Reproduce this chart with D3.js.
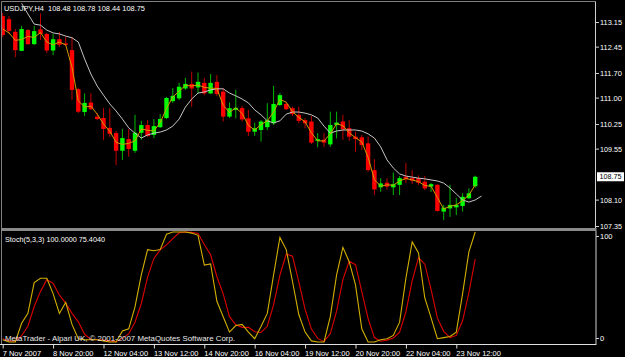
<!DOCTYPE html>
<html><head><meta charset="utf-8">
<script src="https://cdn.jsdelivr.net/npm/d3@7"></script>
<style>html,body{margin:0;padding:0;background:#000;overflow:hidden}svg{display:block}</style>
</head><body>
<svg id="chart" width="625" height="357"></svg>
<script>
// ---------- DATA ----------
const symbolTitle = "USDJPY,H4  108.48 108.78 108.44 108.75";
const stochTitle = "Stoch(5,3,3) 100.0000 75.4040";
const copyright = "MetaTrader - Alpari UK, \u00a9 2001-2007 MetaQuotes Software Corp.";

const opens = [113.32,113.23,112.87,112.33,112.92,112.52,112.94,112.81,112.34,112.66,
112.54,112.35,111.24,110.59,110.86,110.46,110.42,110.14,109.99,109.49,
109.82,109.49,110.00,110.22,109.94,110.16,110.42,110.90,110.98,111.26,
111.39,111.29,111.42,111.12,111.45,111.17,110.46,110.65,110.70,110.41,
110.03,110.08,110.16,110.27,110.79,110.82,110.70,110.51,110.36,110.32,
109.77,109.80,109.67,110.22,110.32,110.13,109.89,109.87,109.70,108.94,
108.45,108.58,108.45,108.52,108.75,108.71,108.71,108.61,108.47,108.52,
107.76,107.85,107.88,107.92,108.14,108.48];
const highs = [113.41,113.32,112.95,113.04,112.95,113.04,113.39,112.84,112.81,112.87,
112.73,112.73,111.27,111.12,111.12,110.56,110.70,110.70,110.05,110.11,
110.11,110.51,110.34,110.36,110.39,110.53,111.02,111.27,111.42,111.56,
111.74,111.71,111.56,111.67,111.64,111.27,110.86,111.22,110.76,110.65,
110.29,110.36,110.84,111.33,111.13,110.88,110.74,110.74,110.42,110.48,
109.99,109.99,110.60,110.60,110.51,110.36,110.03,109.94,109.89,109.25,
108.71,108.71,108.87,108.77,109.14,108.94,108.79,108.77,108.57,108.54,
107.95,108.52,108.15,108.28,108.42,108.78];
const lows = [112.72,112.81,112.15,112.32,112.50,112.50,112.64,112.27,112.21,112.44,
112.47,110.93,110.56,110.48,110.65,110.36,109.80,109.88,109.08,109.23,
109.32,109.43,109.80,109.88,109.85,110.14,110.39,110.85,110.93,111.22,
110.74,111.13,111.07,111.10,111.05,110.32,110.42,110.41,110.32,109.91,
109.91,109.75,110.08,110.22,110.76,110.65,110.48,110.27,110.13,109.68,
109.59,109.60,109.60,109.84,109.80,109.77,109.46,109.51,108.89,108.23,
108.32,108.39,108.23,108.23,108.57,108.54,108.52,108.37,108.32,107.76,
107.52,107.61,107.66,107.76,108.12,108.44];
const closes = [112.78,112.90,112.35,112.95,112.52,112.89,112.81,112.34,112.66,112.50,
112.50,111.22,110.60,110.85,110.67,110.39,110.11,109.97,109.49,109.85,
109.54,110.00,110.22,109.91,110.19,110.39,110.99,111.05,111.31,111.39,
111.26,111.45,111.12,111.42,111.10,110.46,110.70,110.71,110.38,110.03,
110.13,110.32,110.36,110.82,111.07,110.67,110.53,110.34,110.27,109.72,
109.82,109.72,110.22,110.29,110.10,109.89,109.82,109.65,108.94,108.39,
108.56,108.47,108.54,108.71,108.68,108.64,108.58,108.42,108.54,107.78,
107.87,107.95,107.95,108.18,108.28,108.75];

// fast (orange) moving average, from bar 0
const maFast = [112.95,112.84,112.63,112.65,112.74,112.71,112.85,112.58,112.50,112.58,
112.50,111.86,110.91,110.73,110.76,110.53,110.25,110.04,109.73,109.67,
109.70,109.77,110.11,110.07,110.05,110.29,110.69,111.02,111.18,111.35,
111.33,111.36,111.29,111.27,111.26,110.78,110.58,110.71,110.55,110.21,
110.08,110.23,110.34,110.59,110.95,110.87,110.60,110.44,110.31,110.00,
109.77,109.77,109.97,110.26,110.20,110.00,109.86,109.74,109.30,108.67,
108.48,108.52,108.51,108.63,108.70,108.66,108.61,108.50,108.48,108.16,
107.83,107.91,107.95,108.07,108.23,108.52];
// slow (silver) moving average, from bar 3 (shifted, runs one bar past the last candle)
const maSlowStart = 3;
const maSlow = [113.68,113.38,113.09,113.06,112.92,112.84,112.81,112.75,112.70,112.58,
112.10,111.67,111.33,111.07,110.82,110.62,110.39,110.14,109.99,109.85,
109.94,109.99,110.02,110.08,110.19,110.39,110.73,110.96,111.13,111.16,
111.22,111.25,111.25,111.13,111.05,110.96,110.85,110.65,110.51,110.34,
110.28,110.34,110.53,110.59,110.59,110.56,110.51,110.42,110.19,109.99,
110.05,110.08,110.08,110.08,110.05,109.97,109.85,109.60,109.23,109.00,
108.83,108.77,108.74,108.71,108.69,108.66,108.63,108.57,108.43,108.26,
108.09,108.03,108.09,108.20];

const stochK = [2,0,0,17,26,54,58,58,44,26,
36,16,3,2,2,2,1,0,0,10,
12,32,61,84,83,84,98,100,100,100,
99,97,70,71,37,23,9,15,16,9,
3,14,26,61,95,84,55,25,9,1,
0,0,23,61,86,73,52,12,0,0,
2,3,6,18,58,91,81,40,22,3,
4,5,9,44,82,100];
const stochD = [3,1,0.7,5.7,14.3,32.3,46,56.7,53.3,42.7,
35.3,26,18.3,7,2.3,2,1.7,1,0.3,3.3,
7.3,18,35,59,76,83.7,88.3,94,99.3,100,
99.7,98.7,88.7,79.3,59.3,43.7,23,15.7,13.3,13.3,
9.3,8.7,14.3,33.7,60.7,80,78,54.7,29.7,11.7,
3.3,0.3,7.7,28,56.7,73.3,70.3,45.7,21.3,4,
0.7,1.7,3.7,9,27.3,55.7,76.7,70.7,47.7,21.7,
9.7,4,6,19.3,45,75.4];

const priceTicks = [113.15,112.45,111.70,111.00,110.25,109.55,108.10,107.35];
const currentPrice = 108.75;
const stochTicks = [100,0];
const timeTickBars = [0,8,16,24,32,40,48,56,64,72];
const timeLabels = ["7 Nov 2007","8 Nov 20:00","12 Nov 04:00","13 Nov 12:00","14 Nov 20:00",
"16 Nov 04:00","19 Nov 12:00","20 Nov 20:00","22 Nov 04:00","23 Nov 12:00"];

// ---------- DRAW ----------
const FONT = "'Liberation Sans', Arial, sans-serif";
const svg = d3.select("#chart");
svg.append("rect").attr("width",625).attr("height",357).attr("fill","#000");

const n = opens.length;
const x = d3.scaleLinear().domain([0, n-1]).range([2.7, 2.7 + 6.3*(n-1)]);
const y = d3.scaleLinear().domain([107.35, 113.15]).range([226, 22]);
const ys = d3.scaleLinear().domain([0, 100]).range([342, 232]);

const defs = svg.append("defs");
defs.append("clipPath").attr("id","cm").append("rect").attr("x",2).attr("y",2).attr("width",593.5).attr("height",226);
defs.append("clipPath").attr("id","cs").append("rect").attr("x",2).attr("y",231).attr("width",594).attr("height",113);

// main panel
const gm = svg.append("g").attr("clip-path","url(#cm)");
const idx = d3.range(n);
const up = i => closes[i] >= opens[i];
gm.selectAll("line.wick").data(idx).join("line").attr("class","wick")
  .attr("x1",i=>x(i)).attr("x2",i=>x(i))
  .attr("y1",i=>y(highs[i])).attr("y2",i=>y(lows[i]))
  .attr("stroke",i=>up(i)?"#00b800":"#c00000").attr("stroke-width",1);
gm.selectAll("rect.body").data(idx).join("rect").attr("class","body")
  .attr("x",i=>x(i)-2.2).attr("width",4.4)
  .attr("y",i=>y(Math.max(opens[i],closes[i])))
  .attr("height",i=>Math.max(1.2, Math.abs(y(opens[i])-y(closes[i]))))
  .attr("fill",i=>up(i)?"#00ff00":"#ff0000");

gm.append("path").datum(maSlow)
  .attr("d", d3.line().x((d,i)=>x(i+maSlowStart)).y(d=>y(d)))
  .attr("fill","none").attr("stroke","#c4c4c4").attr("stroke-width",1);
gm.append("path").datum(maFast)
  .attr("d", d3.line().x((d,i)=>x(i)).y(d=>y(d)))
  .attr("fill","none").attr("stroke","#d09a00").attr("stroke-width",1);

// stochastic panel
const gs = svg.append("g").attr("clip-path","url(#cs)");
gs.append("path").datum(stochD)
  .attr("d", d3.line().x((d,i)=>x(i)).y(d=>ys(d)))
  .attr("fill","none").attr("stroke","#dd0000").attr("stroke-width",1.1);
gs.append("path").datum(stochK)
  .attr("d", d3.line().x((d,i)=>x(i)).y(d=>ys(d)))
  .attr("fill","none").attr("stroke","#d2b000").attr("stroke-width",1.1);

// frames
svg.append("line").attr("x1",1.5).attr("x2",595.5).attr("y1",1.5).attr("y2",1.5).attr("stroke","#808080");
svg.append("line").attr("x1",1.5).attr("x2",1.5).attr("y1",1.5).attr("y2",344).attr("stroke","#808080");
svg.append("rect").attr("x",1).attr("y",228).attr("width",595.5).attr("height",3).attr("fill","#8a8a8a");
svg.append("line").attr("x1",595.5).attr("x2",595.5).attr("y1",1.5).attr("y2",228).attr("stroke","#d0d0d0");
svg.append("line").attr("x1",596).attr("x2",596).attr("y1",231).attr("y2",344).attr("stroke","#d0d0d0");
svg.append("line").attr("x1",0).attr("x2",596.5).attr("y1",344.5).attr("y2",344.5).attr("stroke","#e0e0e0");

// price axis
const ay = svg.append("g").attr("transform","translate(596,0)")
  .call(d3.axisRight(y).tickValues(priceTicks).tickSize(3).tickPadding(1).tickFormat(d3.format(".2f")));
ay.select(".domain").remove();
ay.selectAll("line").attr("stroke","#d0d0d0");
ay.selectAll("text").attr("fill","#fff").attr("font-family",FONT).attr("font-size","7.5px").attr("textLength",22).attr("lengthAdjust","spacingAndGlyphs");

// current price label
const cp = svg.append("g");
cp.append("rect").attr("x",597).attr("y",y(currentPrice)-4.5).attr("width",27).attr("height",9).attr("fill","#fff");
cp.append("text").attr("x",599.5).attr("y",y(currentPrice)).attr("dy","0.34em")
  .attr("fill","#000").attr("font-family",FONT).attr("font-size","7.5px")
  .attr("textLength",22).attr("lengthAdjust","spacingAndGlyphs").text(d3.format(".2f")(currentPrice));

// stoch axis labels
const as = svg.append("g").attr("transform","translate(596,0)")
  .call(d3.axisRight(d3.scaleLinear().domain([0,100]).range([338,236])).tickValues(stochTicks).tickSize(3).tickPadding(1));
as.select(".domain").remove();
as.selectAll("line").attr("stroke","#d0d0d0");
as.selectAll("text").attr("fill","#fff").attr("font-family",FONT).attr("font-size","7.5px");

// time axis
const ax = svg.append("g").attr("transform","translate(0,344.5)")
  .call(d3.axisBottom(x).tickValues(timeTickBars).tickSize(4).tickPadding(2)
    .tickFormat((d,i)=>timeLabels[i]));
ax.select(".domain").remove();
ax.selectAll("line").attr("stroke","#e0e0e0");
ax.selectAll("text").attr("fill","#fff").attr("font-family",FONT).attr("font-size","7.5px")
  .attr("text-anchor","start").attr("dx","-0.5");

// titles
svg.append("text").attr("x",4).attr("y",10.5).attr("fill","#fff").attr("font-family",FONT)
  .attr("font-size","8px").attr("textLength",141).attr("lengthAdjust","spacingAndGlyphs").attr("xml:space","preserve").text(symbolTitle);
svg.append("text").attr("x",5).attr("y",242).attr("fill","#fff").attr("font-family",FONT)
  .attr("font-size","8px").attr("textLength",100).attr("lengthAdjust","spacingAndGlyphs").text(stochTitle);
svg.append("text").attr("x",5).attr("y",340.5).attr("fill","#e8e8e8").attr("font-family",FONT)
  .attr("font-size","8px").attr("textLength",230).attr("lengthAdjust","spacingAndGlyphs").text(copyright);
</script>
</body></html>
